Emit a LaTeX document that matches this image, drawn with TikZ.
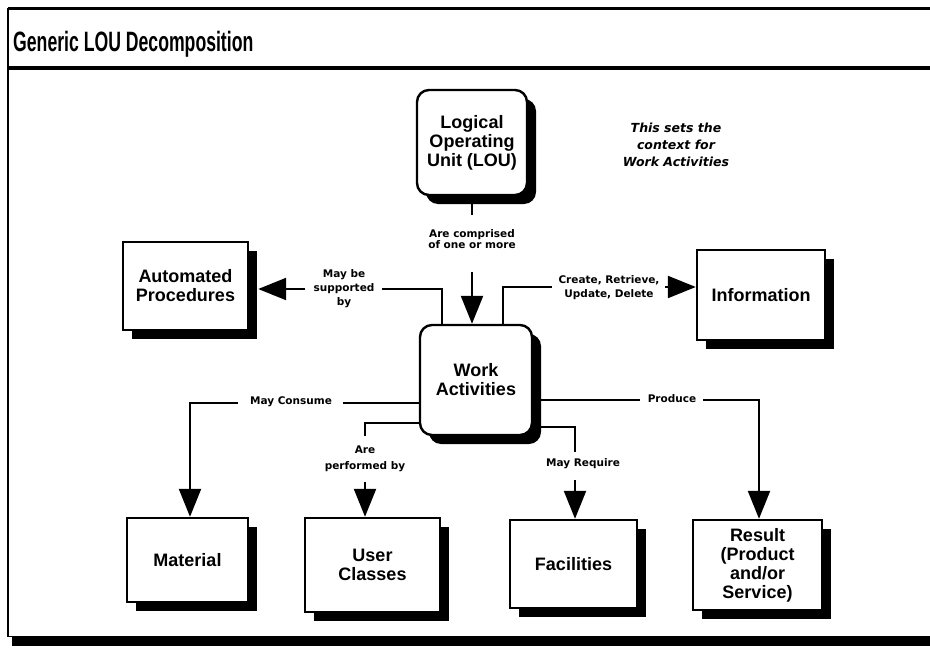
\documentclass[tikz,border=0pt]{standalone}
\usepackage{fontspec}
\setmainfont{Liberation Sans}
\newfontfamily\titlefont{Liberation Sans}[FakeStretch=0.63]
\newfontfamily\lblfont{DejaVu Sans}
\usetikzlibrary{arrows.meta,shadows}
\tikzset{
  conn/.style={line width=2.2pt},
  arr/.style={conn,-{Triangle[length=28pt,width=22pt]}},
  box/.style={draw, line width=2.4pt, fill=white, align=center, inner sep=2pt,
    font=\fontsize{18}{19}\selectfont\bfseries,
    drop shadow={shadow xshift=9pt, shadow yshift=-9pt, fill=black, opacity=1}},
  rbox/.style={box, rounded corners=12pt},
  lbl/.style={align=center, inner sep=0pt, font=\lblfont\bfseries\fontsize{10.5}{#1}\selectfont},
  lbl/.default=12,
}
\begin{document}
\begin{tikzpicture}[x=1pt,y=-1pt]
\useasboundingbox (0,0) rectangle (930,648);
% frame
\draw[line width=3pt] (8,8) -- (930,8);
\draw[line width=2pt] (8,8) -- (8,637);
\draw[line width=4pt] (8,68) -- (930,68);
\draw[line width=1pt] (8,636) -- (930,636);
\fill (12,637) rectangle (930,646);
\node[anchor=base west, inner sep=0pt, font=\titlefont\bfseries\fontsize{28}{30}\selectfont] (title) at (13,51) {Generic LOU Decomposition};

% note
\node[align=center, inner sep=0pt, font=\lblfont\bfseries\itshape\fontsize{12.5}{17}\selectfont] (note) at (676,145) {This sets the\\context for\\Work Activities};

% boxes
\node[rbox, minimum width=110pt, minimum height=105pt] (lou) at (472,142.5) {Logical\\Operating\\Unit (LOU)};
\node[rbox, minimum width=112pt, minimum height=110pt] (wa) at (476,380) {Work\\Activities};
\node[box, minimum width=125pt, minimum height=88pt] (ap) at (185.5,286) {Automated\\Procedures};
\node[box, minimum width=128pt, minimum height=90pt] (info) at (761,295) {Information};
\node[box, minimum width=121pt, minimum height=84pt] (mat) at (187.5,560) {Material};
\node[box, minimum width=135pt, minimum height=94pt] (uc) at (372.5,565) {User\\Classes};
\node[box, minimum width=127pt, minimum height=88pt] (fac) at (573.5,564) {Facilities};
\node[box, minimum width=129pt, minimum height=90pt] (res) at (757.5,565) {Result\\(Product\\and/or\\Service)};

% LOU -> WA
\coordinate (c1) at (472,215);
\coordinate (c2) at (472,272);
\draw[conn] (lou.south) -- (c1);
\node[lbl=11.5] (l1) at (472,239) {Are comprised\\of one or more};
\draw[arr] (c2) -- (wa.north -| c2);

% WA -> Automated Procedures
\coordinate (a1) at (442,289);
\coordinate (a2) at (382,289);
\coordinate (a3) at (305,289);
\coordinate (apr) at ([xshift=9pt]ap.east);
\draw[conn] (wa.north -| a1) -- (a1) -- (a2);
\node[lbl=14] (l2) at (344,289) {May be\\supported\\by};
\draw[arr] (a3) -- (a3 -| apr);

% WA -> Information
\coordinate (b1) at (503,287);
\coordinate (b2) at (552,287);
\coordinate (b3) at (665,287);
\draw[conn] (wa.north -| b1) -- (b1) -- (b2);
\node[lbl=14] (l3) at (609,288) {Create, Retrieve,\\Update, Delete};
\draw[arr] (b3) -- (b3 -| info.west);

% May Consume
\coordinate (d1) at (343,403);
\coordinate (d2) at (238,403);
\coordinate (d3) at (190,403);
\draw[conn] (d1 -| wa.west) -- (d1);
\node[lbl] (l4) at (291,402) {May Consume};
\draw[arr] (d2) -- (d3) -- (d3 |- mat.north);

% Are performed by
\coordinate (e1) at (365,423);
\coordinate (e2) at (365,436);
\coordinate (e3) at (365,482);
\draw[conn] (e1 -| wa.west) -- (e1) -- (e2);
\node[lbl=16] (l5) at (365,459) {Are\\performed by};
\draw[arr] (e3) -- (e3 |- uc.north);

% May Require
\coordinate (f1) at (575,427);
\coordinate (f2) at (575,452);
\coordinate (f3) at (575,480);
\draw[conn] (f1 -| wa.east) -- (f1) -- (f2);
\node[lbl] (l6) at (583,464) {May Require};
\draw[arr] (f3) -- (f3 |- fac.north);

% Produce
\coordinate (g1) at (640,400);
\coordinate (g2) at (703,400);
\coordinate (g3) at (759,400);
\draw[conn] (g1 -| wa.east) -- (g1);
\node[lbl] (l7) at (672,399) {Produce};
\draw[arr] (g2) -- (g3) -- (g3 |- res.north);
\end{tikzpicture}
\end{document}
